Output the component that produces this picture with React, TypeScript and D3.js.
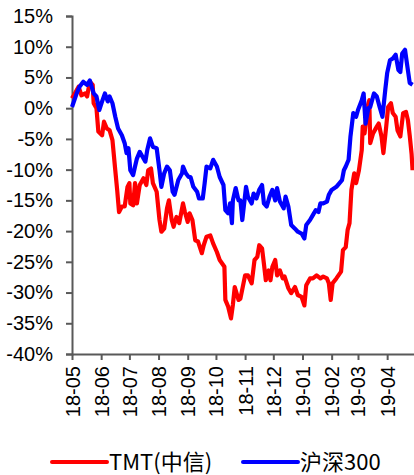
import React, { useEffect, useRef } from "react";
import * as d3 from "d3";

// TMT(中信) cumulative return, %
const tmtDates = [
  "2018-05-01", "2018-05-04", "2018-05-08", "2018-05-11", "2018-05-15", "2018-05-17", "2018-05-20", "2018-05-23",
  "2018-05-24", "2018-05-27", "2018-05-29", "2018-06-02", "2018-06-04", "2018-06-07", "2018-06-10", "2018-06-13",
  "2018-06-16", "2018-06-18", "2018-06-20", "2018-06-23", "2018-06-26", "2018-06-29", "2018-07-01", "2018-07-02",
  "2018-07-05", "2018-07-07", "2018-07-09", "2018-07-12", "2018-07-16", "2018-07-19", "2018-07-21", "2018-07-24",
  "2018-07-26", "2018-07-30", "2018-08-02", "2018-08-04", "2018-08-07", "2018-08-10", "2018-08-12", "2018-08-15",
  "2018-08-17", "2018-08-20", "2018-08-23", "2018-08-27", "2018-08-29", "2018-09-01", "2018-09-03", "2018-09-06",
  "2018-09-09", "2018-09-12", "2018-09-16", "2018-09-18", "2018-09-21", "2018-09-25", "2018-09-28", "2018-10-02",
  "2018-10-05", "2018-10-10", "2018-10-11", "2018-10-14", "2018-10-17", "2018-10-19", "2018-10-21", "2018-10-25",
  "2018-10-27", "2018-11-01", "2018-11-04", "2018-11-08", "2018-11-11", "2018-11-14", "2018-11-16", "2018-11-19",
  "2018-11-21", "2018-11-23", "2018-11-26", "2018-11-28", "2018-11-30", "2018-12-03", "2018-12-05", "2018-12-08",
  "2018-12-11", "2018-12-13", "2018-12-17", "2018-12-20", "2018-12-24", "2018-12-27", "2018-12-31", "2019-01-03",
  "2019-01-05", "2019-01-09", "2019-01-12", "2019-01-16", "2019-01-20", "2019-01-23", "2019-01-27", "2019-01-29",
  "2019-01-31", "2019-02-02", "2019-02-06", "2019-02-11", "2019-02-13", "2019-02-16", "2019-02-18", "2019-02-20",
  "2019-02-22", "2019-02-25", "2019-02-27", "2019-03-02", "2019-03-05", "2019-03-06", "2019-03-08", "2019-03-11",
  "2019-03-13", "2019-03-14", "2019-03-17", "2019-03-21", "2019-03-23", "2019-03-26", "2019-03-28", "2019-03-31",
  "2019-04-02", "2019-04-05", "2019-04-07", "2019-04-10", "2019-04-12", "2019-04-15", "2019-04-18", "2019-04-21",
  "2019-04-23", "2019-04-25", "2019-04-27", "2019-04-28",
];
const tmtValues = [
  1.6, 2.4, 3.5, 2.1, 2.4, 1.9, 4.3, 3.8,
  0.8, 0.0, -3.8, -4.4, -2.2, -3.3, -3.6, -5.2,
  -10.1, -13.3, -16.9, -16.0, -16.0, -12.8, -12.2, -15.5,
  -15.8, -12.2, -15.5, -12.5, -11.4, -12.5, -10.1, -9.8,
  -12.2, -13.6, -18.2, -20.1, -19.6, -16.3, -15.0, -18.2,
  -19.3, -17.7, -18.7, -15.5, -16.9, -18.5, -17.1, -18.2,
  -21.5, -21.7, -23.6, -22.3, -20.9, -20.7, -22.0, -23.4,
  -24.7, -25.8, -31.2, -32.3, -34.2, -32.0, -29.1, -31.2,
  -31.0, -27.2, -27.2, -28.5, -24.7, -24.2, -22.3, -22.8,
  -25.3, -28.0, -26.4, -28.0, -25.8, -24.7, -27.2, -26.4,
  -27.7, -27.4, -29.3, -30.1, -29.1, -30.4, -30.7, -32.1,
  -28.8, -27.7, -27.7, -27.2, -27.7, -27.4, -27.7, -28.5,
  -31.2, -28.5, -27.7, -26.6, -23.1, -22.6, -19.8, -18.7,
  -13.3, -10.6, -12.2, -10.1, -6.8, -3.0, -4.1, 0.2,
  1.3, -5.7, -4.1, -3.0, -2.5, -4.6, -7.3, -3.0,
  0.2, 0.8, -0.8, -1.4, -3.6, -4.6, -0.8, -0.6,
  -1.9, -4.5, -7.5, -10.1,
];

// 沪深300 cumulative return, %
const hsDates = [
  "2018-05-01", "2018-05-06", "2018-05-09", "2018-05-13", "2018-05-17", "2018-05-20", "2018-05-24", "2018-05-27",
  "2018-05-30", "2018-06-02", "2018-06-05", "2018-06-08", "2018-06-10", "2018-06-13", "2018-06-16", "2018-06-19",
  "2018-06-23", "2018-06-26", "2018-06-28", "2018-06-30", "2018-07-02", "2018-07-05", "2018-07-07", "2018-07-09",
  "2018-07-12", "2018-07-15", "2018-07-18", "2018-07-20", "2018-07-23", "2018-07-26", "2018-07-30", "2018-08-02",
  "2018-08-04", "2018-08-07", "2018-08-10", "2018-08-13", "2018-08-16", "2018-08-18", "2018-08-22", "2018-08-26",
  "2018-08-27", "2018-08-30", "2018-09-02", "2018-09-04", "2018-09-07", "2018-09-11", "2018-09-13", "2018-09-17",
  "2018-09-19", "2018-09-21", "2018-09-25", "2018-09-28", "2018-10-02", "2018-10-05", "2018-10-09", "2018-10-11",
  "2018-10-14", "2018-10-16", "2018-10-18", "2018-10-19", "2018-10-22", "2018-10-25", "2018-10-27", "2018-10-29",
  "2018-11-02", "2018-11-04", "2018-11-08", "2018-11-10", "2018-11-13", "2018-11-16", "2018-11-19", "2018-11-21",
  "2018-11-24", "2018-11-27", "2018-11-30", "2018-12-03", "2018-12-05", "2018-12-08", "2018-12-12", "2018-12-14",
  "2018-12-17", "2018-12-20", "2018-12-24", "2018-12-27", "2018-12-31", "2019-01-03", "2019-01-05", "2019-01-09",
  "2019-01-12", "2019-01-15", "2019-01-18", "2019-01-20", "2019-01-23", "2019-01-27", "2019-01-29", "2019-02-01",
  "2019-02-06", "2019-02-12", "2019-02-14", "2019-02-16", "2019-02-19", "2019-02-21", "2019-02-24", "2019-02-27",
  "2019-03-01", "2019-03-05", "2019-03-07", "2019-03-09", "2019-03-12", "2019-03-14", "2019-03-18", "2019-03-21",
  "2019-03-24", "2019-03-27", "2019-03-30", "2019-04-01", "2019-04-04", "2019-04-07", "2019-04-10", "2019-04-13",
  "2019-04-15", "2019-04-17", "2019-04-20", "2019-04-22", "2019-04-25", "2019-04-28",
];
const hsValues = [
  0.2, 2.4, 3.5, 4.3, 3.8, 4.5, 2.4, 1.9,
  -0.3, 1.1, 2.4, 1.1, 1.9, 0.8, -1.4, -3.3,
  -4.4, -5.7, -7.3, -6.5, -10.1, -10.9, -9.5, -8.2,
  -7.1, -7.9, -8.7, -6.8, -4.9, -6.3, -6.5, -10.1,
  -12.8, -10.6, -9.5, -10.1, -13.6, -14.1, -11.7, -10.6,
  -9.5, -10.6, -11.2, -11.2, -12.8, -13.6, -14.7, -14.7,
  -12.2, -9.5, -9.8, -8.4, -9.5, -11.2, -12.5, -16.6,
  -17.1, -15.5, -18.7, -15.0, -13.0, -15.0, -15.0, -18.2,
  -12.8, -14.4, -15.5, -13.9, -14.7, -13.3, -12.5, -15.5,
  -16.0, -14.4, -13.3, -15.0, -13.0, -15.2, -16.3, -14.4,
  -16.0, -19.0, -19.6, -20.1, -20.4, -21.2, -19.0, -18.2,
  -17.4, -16.6, -16.9, -15.5, -15.5, -15.2, -14.1, -13.3,
  -12.8, -11.7, -10.1, -9.5, -8.4, -4.6, -0.8, -1.4,
  -0.3, 1.3, 2.4, -2.5, 0.0, 0.2, 2.4, 1.9,
  0.2, -1.4, 3.0, 5.7, 7.8, 8.1, 8.7, 6.2,
  5.9, 8.9, 9.5, 7.3, 4.1, 3.8,
];

const monthTicks = [
  "2018-05-01", "2018-06-01", "2018-07-01", "2018-08-01", "2018-09-01", "2018-10-01",
  "2018-11-01", "2018-12-01", "2019-01-01", "2019-02-01", "2019-03-01", "2019-04-01",
];
const yTicks = [15, 10, 5, 0, -5, -10, -15, -20, -25, -30, -35, -40];
const legendNames = ["TMT(中信)", "沪深300"];
const colors = ["#ff0000", "#0000ff"];

const W = 414;
const H = 475;
const axisFont = "'Liberation Sans', Arial, sans-serif";
const cjkFont = "'Noto Sans CJK SC', 'Liberation Sans', sans-serif";

export default function App() {
  const ref = useRef<SVGSVGElement>(null);

  useEffect(() => {
    if (!ref.current) return;
    const svg = d3.select(ref.current);
    svg.selectAll("*").remove();

    const parse = d3.timeParse("%Y-%m-%d");
    const left = 72;
    const right = 413.5;
    const top = 16;
    const bottom = 354;

    const x = d3
      .scaleTime()
      .domain([parse("2018-05-01")!, parse("2019-04-29")!])
      .range([left, right]);
    const y = d3.scaleLinear().domain([-40, 15]).range([bottom, top]);

    const axisColor = "#595959";

    // Y axis
    const gy = svg
      .append("g")
      .attr("transform", `translate(${left},0)`)
      .call(
        d3
          .axisLeft(y)
          .tickValues(yTicks)
          .tickSize(6)
          .tickPadding(13)
          .tickFormat((d) => `${d}%`)
      );
    gy.select(".domain").attr("stroke", axisColor).attr("stroke-width", 2);
    gy.selectAll(".tick line").attr("stroke", axisColor).attr("stroke-width", 2);
    gy.selectAll(".tick text")
      .attr("fill", "#000")
      .style("font-family", axisFont)
      .style("font-size", "20px");

    // X axis
    const gx = svg
      .append("g")
      .attr("transform", `translate(0,${bottom})`)
      .call(
        d3
          .axisBottom(x)
          .tickValues(monthTicks.map((d) => parse(d)!))
          .tickSize(6)
          .tickSizeOuter(0)
          .tickFormat((d) => d3.timeFormat("%y-%m")(d as Date))
      );
    gx.select(".domain").attr("stroke", axisColor).attr("stroke-width", 2);
    gx.selectAll(".tick line").attr("stroke", axisColor).attr("stroke-width", 2);
    gx.selectAll(".tick text")
      .attr("fill", "#000")
      .attr("transform", "rotate(-90)")
      .attr("text-anchor", "end")
      .attr("x", -12)
      .attr("y", 0)
      .attr("dy", "0.35em")
      .style("font-family", axisFont)
      .style("font-size", "20px");

    // Lines
    const series = [
      { dates: tmtDates, values: tmtValues },
      { dates: hsDates, values: hsValues },
    ];
    const line = d3
      .line<[Date, number]>()
      .x((d) => x(d[0]))
      .y((d) => y(d[1]));

    series.forEach((s, i) => {
      const pts: [Date, number][] = s.dates.map((d, j) => [parse(d)!, s.values[j]]);
      svg
        .append("path")
        .datum(pts)
        .attr("fill", "none")
        .attr("stroke", colors[i])
        .attr("stroke-width", 4.2)
        .attr("stroke-linejoin", "round")
        .attr("d", line);
    });

    // Legend
    const legendY = 462;
    const legendX = [52, 243];
    legendNames.forEach((name, i) => {
      const g = svg.append("g").attr("transform", `translate(${legendX[i]},${legendY})`);
      g.append("line")
        .attr("x1", 0)
        .attr("x2", 55)
        .attr("y1", 0)
        .attr("y2", 0)
        .attr("stroke", colors[i])
        .attr("stroke-width", 4)
        .attr("stroke-linecap", "round");
      g.append("text")
        .attr("x", 57)
        .attr("y", 0)
        .attr("dy", "0.35em")
        .attr("fill", "#000")
        .style("font-family", cjkFont)
        .style("font-size", "22px")
        .text(name);
    });
  }, []);

  return (
    <svg
      ref={ref}
      width={W}
      height={H}
      style={{ position: "absolute", left: 0, top: 0, background: "#fff" }}
    />
  );
}
